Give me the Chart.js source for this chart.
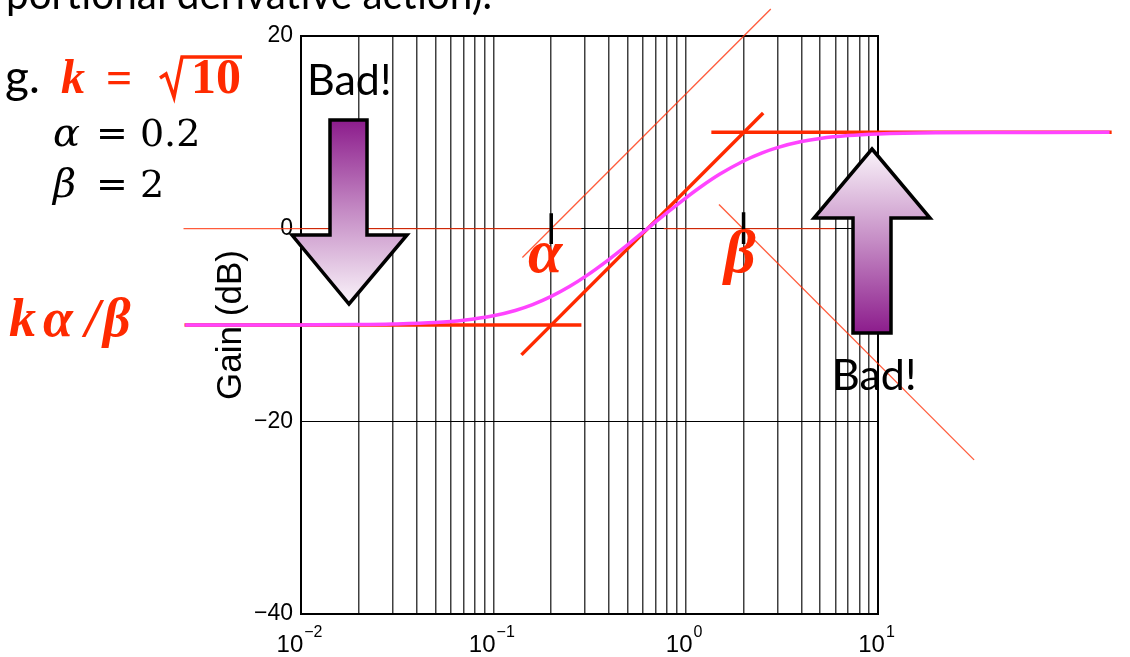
<!DOCTYPE html>
<html>
<head>
<meta charset="utf-8">
<script src="https://cdn.jsdelivr.net/npm/chart.js@4.4.1/dist/chart.umd.min.js"></script>
<style>
  html, body { margin: 0; padding: 0; background: #fff; }
  #wrap { width: 1130px; height: 657px; }
</style>
</head>
<body>
<div id="wrap"><canvas id="grafico_bode" width="1130" height="657"></canvas></div>
<script>
// frequency (rad/s) and gain (dB)
const freq   = [0.0025, 0.005, 0.01, 0.02, 0.03, 0.05, 0.07, 0.1, 0.13, 0.16, 0.2, 0.25, 0.3, 0.4, 0.5, 0.6, 0.7, 0.8, 1, 1.2, 1.5, 2, 2.5, 3, 4, 5, 7, 10, 20, 50, 160]
const gainDb = [-10.0, -10.0, -9.99, -9.96, -9.90, -9.74, -9.50, -9.04, -8.49, -7.88, -7.03, -5.98, -4.98, -3.18, -1.66, -0.37, 0.72, 1.66, 3.18, 4.35, 5.64, 7.03, 7.88, 8.42, 9.04, 9.36, 9.66, 9.83, 9.96, 9.99, 10.0]

// asymptotes (thick red)
const lowAsymX  = [0.00248, 0.287], lowAsymY  = [-10, -10]
const riseAsymX = [0.14, 2.53],     riseAsymY = [-13.1, 12.0]
const highAsymX = [1.36, 164],      highAsymY = [10, 10]

// construction lines (thin red)
const zeroLeftX   = [0.00245, 0.287], zeroLeftY   = [0, 0]
const zeroRightX  = [0.769, 5.97],    zeroRightY  = [0, 0]
const alphaSlopeX = [0.1416, 2.77],   alphaSlopeY = [-3.0, 22.8]
const betaSlopeX  = [1.49, 31.6],     betaSlopeY  = [2.5, -24.0]

// black marks at alpha and beta
const alphaMarkX = [0.2, 0.2], alphaMarkY = [1.6, -1.6]
const betaMarkX  = [2, 2],     betaMarkY  = [1.7, -1.6]

// axes
const xMin = 0.01, xMax = 10
const yMin = -40, yMax = 20
const xDecades = [0.01, 0.1, 1]
const xLabelExps = [-2, -1, 0, 1]
const yTicks = [-40, -20, 0, 20]
const yTickLabels = ['\u221240', '\u221220', '0', '20']

const RED = '#ff2a00'
const THIN_RED = 'rgba(255, 50, 10, 0.8)'

function pts(xs, ys) {
  return xs.map((x, i) => ({ x: x, y: ys[i] }))
}

function lineSet(xs, ys, color, width) {
  return {
    data: pts(xs, ys),
    borderColor: color,
    borderWidth: width,
    pointRadius: 0,
    clip: false,
    fill: false
  }
}

// grid ticks 1..9 per decade
const xGridTicks = []
xDecades.forEach((d) => {
  for (let m = 1; m <= 9; m++) xGridTicks.push({ value: d * m })
})
xGridTicks.push({ value: xMax })

function drawArrow(ctx, pts, gy0, gy1, c0, c1) {
  const g = ctx.createLinearGradient(0, gy0, 0, gy1)
  g.addColorStop(0, c0)
  g.addColorStop(0.5, '#c58cc5')
  g.addColorStop(1, c1)
  ctx.beginPath()
  ctx.moveTo(pts[0][0], pts[0][1])
  for (let i = 1; i < pts.length; i++) ctx.lineTo(pts[i][0], pts[i][1])
  ctx.closePath()
  ctx.fillStyle = g
  ctx.fill()
  ctx.lineWidth = 3.5
  ctx.lineJoin = 'miter'
  ctx.strokeStyle = '#000'
  ctx.stroke()
}

function txt(ctx, s, x, y, font, color) {
  ctx.font = font
  ctx.fillStyle = color
  ctx.fillText(s, x, y)
  return ctx.measureText(s).width
}

const extras = {
  id: 'extras',
  beforeDatasetsDraw(chart) {
    const { ctx, chartArea: a } = chart
    const xs = chart.scales.x, ys = chart.scales.y
    ctx.save()
    // box
    ctx.strokeStyle = '#000'
    ctx.lineWidth = 2
    ctx.strokeRect(a.left, a.top, a.right - a.left, a.bottom - a.top)

    // y tick labels
    ctx.fillStyle = '#000'
    ctx.font = "23px 'Liberation Sans'"
    ctx.textAlign = 'right'
    ctx.textBaseline = 'middle'
    yTicks.forEach((v, i) => ctx.fillText(yTickLabels[i], a.left - 8, ys.getPixelForValue(v)))

    // x tick labels 10^n
    ctx.textBaseline = 'alphabetic'
    ctx.textAlign = 'left'
    xLabelExps.forEach((e) => {
      const px = xs.getPixelForValue(Math.pow(10, e))
      const ex = e < 0 ? '\u2212' + (-e) : String(e)
      ctx.font = "24px 'Liberation Sans'"
      const w1 = ctx.measureText('10').width
      ctx.font = "16px 'Liberation Sans'"
      const w2 = ctx.measureText(ex).width
      const x0 = px - (w1 + w2) / 2 - 2
      ctx.font = "24px 'Liberation Sans'"
      ctx.fillText('10', x0, 652)
      ctx.font = "16px 'Liberation Sans'"
      ctx.fillText(ex, x0 + w1 + 1, 637)
    })

    // axis title
    ctx.save()
    ctx.translate(241, ys.getPixelForValue(-10))
    ctx.rotate(-Math.PI / 2)
    ctx.textAlign = 'center'
    ctx.font = "35px 'Liberation Sans'"
    ctx.fillText('Gain (dB)', 0, 0)
    ctx.restore()
    ctx.restore()
  },
  afterDraw(chart) {
    const { ctx } = chart
    ctx.save()
    ctx.textBaseline = 'alphabetic'
    ctx.textAlign = 'left'

    // cut-off heading at the top
    ctx.font = "42px Lato"
    const hw = ctx.measureText('portional derivative action).').width
    ctx.save()
    ctx.translate(6, 9)
    ctx.scale(486 / hw, 1)
    txt(ctx, 'portional derivative action).', 0, 0, '42px Lato', '#000')
    ctx.restore()

    // parameters
    txt(ctx, 'g.', 5, 93, '46px Lato', '#000')
    txt(ctx, 'k', 61, 93, "bold italic 48px 'Liberation Serif'", RED)
    txt(ctx, '=', 106, 93, "bold 46px 'Liberation Serif'", RED)
    const w10 = txt(ctx, '10', 191, 93, "bold 50px 'Liberation Serif'", RED)
    // radical sign
    ctx.strokeStyle = RED
    ctx.lineWidth = 3.5
    ctx.lineJoin = 'miter'
    ctx.beginPath()
    ctx.moveTo(160, 78)
    ctx.lineTo(166, 74)
    ctx.lineTo(174, 97)
    ctx.lineTo(182, 57)
    ctx.lineTo(191 + w10 + 1, 57)
    ctx.stroke()

    txt(ctx, '\u03b1', 53, 146, "italic 40px 'DejaVu Serif'", '#000')
    txt(ctx, '= 0.2', 96, 146, "38px 'DejaVu Serif'", '#000')
    txt(ctx, '\u03b2', 53, 197, "italic 40px 'DejaVu Serif'", '#000')
    txt(ctx, '= 2', 96, 197, "38px 'DejaVu Serif'", '#000')

    // k alpha / beta
    const f = "bold italic 54px 'Liberation Serif'"
    txt(ctx, 'k', 9, 336, f, RED)
    txt(ctx, '\u03b1', 43, 336, f, RED)
    txt(ctx, '/', 85, 336, f, RED)
    txt(ctx, '\u03b2', 103, 336, f, RED)

    // alpha / beta markers
    txt(ctx, '\u03b1', 528, 272, "bold italic 62px 'Liberation Serif'", RED)
    txt(ctx, '\u03b2', 724, 272, "bold italic 62px 'Liberation Serif'", RED)

    // arrows
    drawArrow(ctx, [[330, 120], [367, 120], [367, 235], [407, 235], [349, 304], [292, 235], [330, 235]],
      120, 304, '#8c1c8c', '#faf4fa')
    drawArrow(ctx, [[872, 149], [930, 218], [891, 218], [891, 333], [853, 333], [853, 218], [814, 218]],
      149, 333, '#faf4fa', '#8c1c8c')

    txt(ctx, 'Bad!', 307, 95, '43px Lato', '#000')
    txt(ctx, 'Bad!', 832, 390, '43px Lato', '#000')
    ctx.restore()
  }
}

const ctx = document.getElementById('grafico_bode').getContext('2d')
const grafico = new Chart(ctx, {
  type: 'line',
  data: {
    datasets: [
      Object.assign(lineSet(freq, gainDb, '#ff44ff', 3.5), { cubicInterpolationMode: 'monotone' }),
      lineSet(alphaMarkX, alphaMarkY, '#000', 3.5),
      lineSet(betaMarkX, betaMarkY, '#000', 3.5),
      lineSet(lowAsymX, lowAsymY, RED, 3.5),
      lineSet(riseAsymX, riseAsymY, RED, 3.5),
      lineSet(highAsymX, highAsymY, RED, 3.5),
      lineSet(zeroLeftX, zeroLeftY, THIN_RED, 1.3),
      lineSet(zeroRightX, zeroRightY, THIN_RED, 1.3),
      lineSet(alphaSlopeX, alphaSlopeY, THIN_RED, 1.3),
      lineSet(betaSlopeX, betaSlopeY, THIN_RED, 1.3)
    ]
  },
  options: {
    responsive: false,
    animation: false,
    events: [],
    layout: { padding: { left: 301, right: 252, top: 36, bottom: 43 } },
    plugins: { legend: { display: false }, tooltip: { enabled: false } },
    scales: {
      x: {
        type: 'logarithmic',
        afterBuildTicks: (s) => { s.min = xMin; s.max = xMax; s.ticks = xGridTicks.map((t) => ({ value: t.value })) },
        ticks: { display: false },
        grid: { color: 'rgba(0,0,0,0.75)', lineWidth: 1.5, drawTicks: false },
        border: { display: true, color: '#000', width: 2 }
      },
      y: {
        type: 'linear',
        afterBuildTicks: (s) => { s.min = yMin; s.max = yMax; s.ticks = yTicks.map((v) => ({ value: v })) },
        ticks: { display: false },
        grid: { color: '#000', lineWidth: 1, drawTicks: false },
        border: { display: true, color: '#000', width: 2 }
      }
    }
  },
  plugins: [extras]
})
</script>
</body>
</html>
